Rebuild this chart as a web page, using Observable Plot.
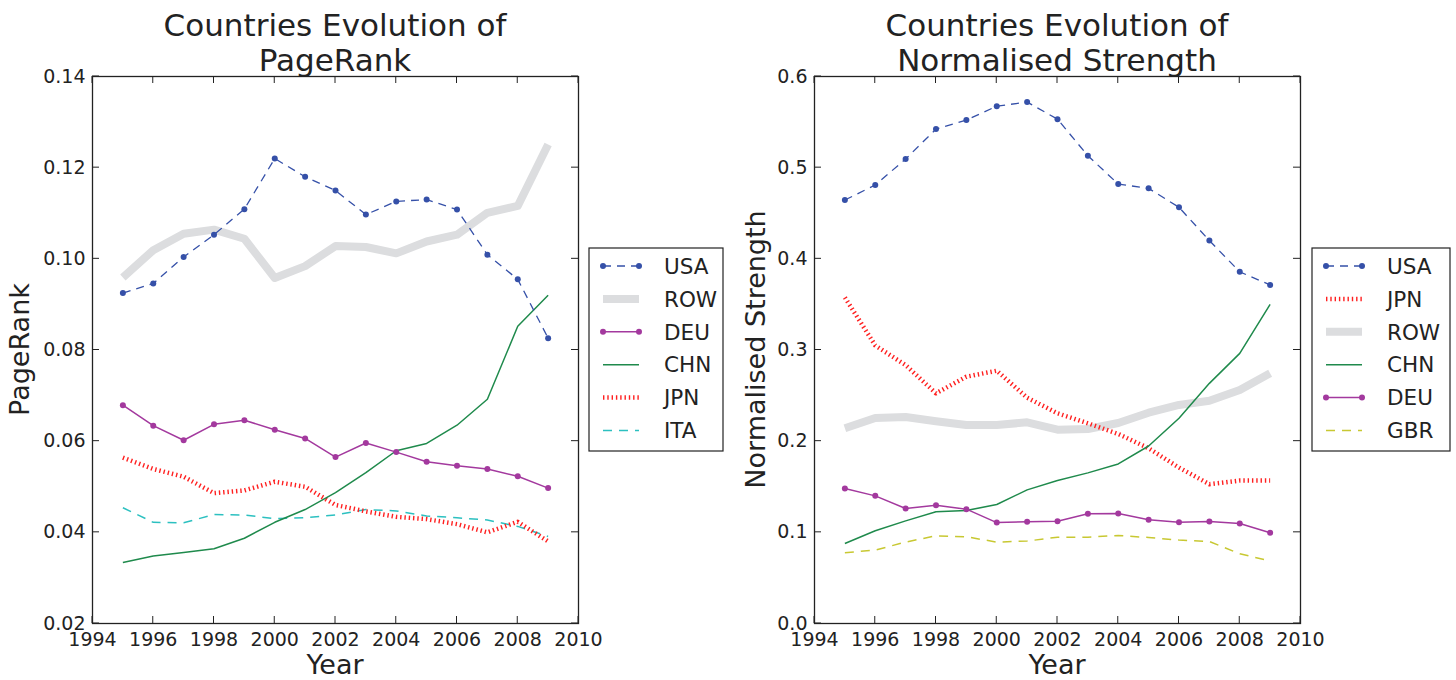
<!DOCTYPE html>
<html><head><meta charset="utf-8">
<script src="https://cdn.jsdelivr.net/npm/d3@7"></script>
<script src="https://cdn.jsdelivr.net/npm/@observablehq/plot@0.6"></script>
<style>
body{margin:0;background:#fff;}
#wrap{display:flex;width:1456px;height:680px;}
svg{font-family:"DejaVu Sans",sans-serif;}
</style>
</head><body><div id="wrap"></div>
<script>
const years = [1995,1996,1997,1998,1999,2000,2001,2002,2003,2004,2005,2006,2007,2008,2009];
const xTicks = [1994,1996,1998,2000,2002,2004,2006,2008,2010];

// PageRank panel
const prTicks = [0.02,0.04,0.06,0.08,0.10,0.12,0.14];
const prUSA = [0.0925,0.0946,0.1004,0.1053,0.1109,0.1220,0.1180,0.1150,0.1097,0.1126,0.1130,0.1108,0.1009,0.0955,0.0826];
const prROW = [0.0959,0.1019,0.1055,0.1064,0.1044,0.0958,0.0984,0.1028,0.1026,0.1012,0.1038,0.1053,0.1101,0.1116,0.1251];
const prDEU = [0.0679,0.0634,0.0602,0.0637,0.0646,0.0625,0.0606,0.0565,0.0596,0.0576,0.0555,0.0546,0.0539,0.0523,0.0497];
const prCHN = [0.0334,0.0348,0.0356,0.0364,0.0387,0.0422,0.0450,0.0487,0.0531,0.0579,0.0595,0.0635,0.0692,0.0852,0.0920];
const prJPN = [0.0564,0.0539,0.0522,0.0486,0.0492,0.0511,0.0500,0.0460,0.0446,0.0434,0.0429,0.0418,0.0400,0.0423,0.0380];
const prITA = [0.0454,0.0422,0.0421,0.0439,0.0438,0.0430,0.0432,0.0438,0.0450,0.0447,0.0436,0.0432,0.0427,0.0413,0.0391];

// Normalised Strength panel
const nsTicks = [0.0,0.1,0.2,0.3,0.4,0.5,0.6];
const nsUSA = [0.4645,0.481,0.5095,0.5423,0.5522,0.5675,0.5719,0.5532,0.5131,0.482,0.4773,0.4565,0.420,0.3857,0.3714];
const nsJPN = [0.3576,0.305,0.2834,0.2525,0.2707,0.2773,0.2477,0.2306,0.2196,0.2079,0.1922,0.171,0.1528,0.1568,0.1568];
const nsROW = [0.2141,0.2254,0.2265,0.2218,0.2177,0.2177,0.2207,0.2126,0.2134,0.2199,0.2312,0.2397,0.2444,0.2561,0.2744];
const nsCHN = [0.0878,0.1017,0.1126,0.1225,0.1239,0.1305,0.1466,0.1568,0.1652,0.175,0.1947,0.2251,0.2634,0.2963,0.350];
const nsDEU = [0.148,0.140,0.1261,0.1298,0.1254,0.1107,0.1115,0.1122,0.1203,0.1206,0.1137,0.1111,0.1119,0.1097,0.0995];
const nsGBR = [0.0776,0.0805,0.0893,0.0962,0.0951,0.0893,0.0904,0.0947,0.0947,0.0965,0.0943,0.0915,0.0900,0.0765,0.0685];

const styles = {
  USA: {color:"#3550a8", width:1.3, dash:"8,6", dot:true},
  ROW: {color:"#dcdddf", width:8},
  DEU: {color:"#a3399e", width:1.5, dot:true},
  CHN: {color:"#1f8a4c", width:1.5},
  JPN: {color:"#ff2020", width:4.5, dash:"1.4,2.9"},
  ITA: {color:"#2cc0c0", width:1.5, dash:"9,7"},
  GBR: {color:"#c8c832", width:1.5, dash:"9,7"}
};
const INK = "#222";

function makeChart(cfg) {
  const rows = [];
  for (const name of cfg.draw) cfg.series[name].forEach((v, i) => rows.push({year: years[i], value: v, name}));
  const marks = [];
  for (const name of cfg.draw) {
    const s = styles[name];
    const d = rows.filter(r => r.name === name);
    marks.push(Plot.line(d, {x: "year", y: "value", stroke: s.color, strokeWidth: s.width,
      strokeDasharray: s.dash, strokeLinejoin: "round", strokeLinecap: "butt"}));
    if (s.dot) marks.push(Plot.dot(d, {x: "year", y: "value", r: 3, fill: s.color, stroke: "none"}));
  }
  marks.push(Plot.frame({stroke: INK, strokeWidth: 1.3}));
  marks.push(Plot.axisX({ticks: xTicks, tickSize: 0, tickPadding: 9, tickFormat: d => String(d), label: null, fontSize: 19}));
  marks.push(Plot.axisY({ticks: cfg.yTicks, tickSize: 0, tickPadding: 7, tickFormat: d3.format(cfg.fmt), label: null, fontSize: 19}));
  marks.push((index, scales, values, dims) => {
    const g = d3.create("svg:g");
    const {x, y} = scales;
    const L = dims.marginLeft, R = dims.width - dims.marginRight, T = dims.marginTop, B = dims.height - dims.marginBottom;
    const tk = 7;
    for (const t of xTicks) {
      g.append("line").attr("x1", x(t)).attr("x2", x(t)).attr("y1", B).attr("y2", B - tk).attr("stroke", INK);
      g.append("line").attr("x1", x(t)).attr("x2", x(t)).attr("y1", T).attr("y2", T + tk).attr("stroke", INK);
    }
    for (const t of cfg.yTicks) {
      g.append("line").attr("x1", L).attr("x2", L + tk).attr("y1", y(t)).attr("y2", y(t)).attr("stroke", INK);
      g.append("line").attr("x1", R).attr("x2", R - tk).attr("y1", y(t)).attr("y2", y(t)).attr("stroke", INK);
    }
    const cx = (L + R) / 2;
    const title = g.append("text").attr("text-anchor", "middle").attr("font-size", 31).attr("fill", INK);
    title.append("tspan").attr("x", cx).attr("y", 36).text(cfg.title[0]);
    title.append("tspan").attr("x", cx).attr("y", 71).text(cfg.title[1]);
    g.append("text").attr("x", cx).attr("y", 674).attr("text-anchor", "middle").attr("font-size", 27).attr("fill", INK).text("Year");
    g.append("text").attr("transform", `translate(${cfg.ylabelX},${(T + B) / 2}) rotate(-90)`)
      .attr("text-anchor", "middle").attr("font-size", 27).attr("fill", INK).text(cfg.ylabel);
    // legend
    const lx = cfg.legendX, ly = 248, lw = cfg.legendW, lh = 203;
    g.append("rect").attr("x", lx).attr("y", ly).attr("width", lw).attr("height", lh)
      .attr("fill", "#fff").attr("stroke", INK).attr("stroke-width", 1.2);
    cfg.legend.forEach((name, i) => {
      const s = styles[name];
      const yy = 266 + i * 32.9;
      const x1 = lx + 14, x2 = lx + 50;
      g.append("line").attr("x1", x1).attr("x2", x2).attr("y1", yy).attr("y2", yy)
        .attr("stroke", s.color).attr("stroke-width", s.width).attr("stroke-dasharray", s.dash || null);
      if (s.dot) {
        g.append("circle").attr("cx", x1).attr("cy", yy).attr("r", 3).attr("fill", s.color);
        g.append("circle").attr("cx", x2).attr("cy", yy).attr("r", 3).attr("fill", s.color);
      }
      g.append("text").attr("x", lx + 75).attr("y", yy).attr("dy", "0.36em").attr("text-anchor", "start")
        .attr("font-size", 21.5).attr("fill", INK).text(name);
    });
    return g.node();
  });
  return Plot.plot({
    width: 728, height: 680,
    marginLeft: cfg.mLeft, marginRight: cfg.mRight, marginTop: 76, marginBottom: 57,
    style: {fontFamily: "DejaVu Sans", fontSize: "19px", color: INK, background: "#fff", overflow: "visible"},
    x: {domain: [1994, 2010]},
    y: {domain: [cfg.yTicks[0], cfg.yTicks[cfg.yTicks.length - 1]]},
    marks
  });
}

const wrap = document.getElementById("wrap");
wrap.append(makeChart({
  series: {USA: prUSA, ROW: prROW, DEU: prDEU, CHN: prCHN, JPN: prJPN, ITA: prITA},
  draw: ["ROW", "ITA", "JPN", "CHN", "DEU", "USA"],
  legend: ["USA", "ROW", "DEU", "CHN", "JPN", "ITA"],
  title: ["Countries Evolution of", "PageRank"],
  ylabel: "PageRank", ylabelX: 29,
  yTicks: prTicks, fmt: ".2f",
  mLeft: 92, mRight: 150, legendX: 589, legendW: 134
}));
wrap.append(makeChart({
  series: {USA: nsUSA, JPN: nsJPN, ROW: nsROW, CHN: nsCHN, DEU: nsDEU, GBR: nsGBR},
  draw: ["ROW", "GBR", "JPN", "CHN", "DEU", "USA"],
  legend: ["USA", "JPN", "ROW", "CHN", "DEU", "GBR"],
  title: ["Countries Evolution of", "Normalised Strength"],
  ylabel: "Normalised Strength", ylabelX: 37,
  yTicks: nsTicks, fmt: ".1f",
  mLeft: 86, mRight: 156, legendX: 584, legendW: 138
}));
</script></body></html>
